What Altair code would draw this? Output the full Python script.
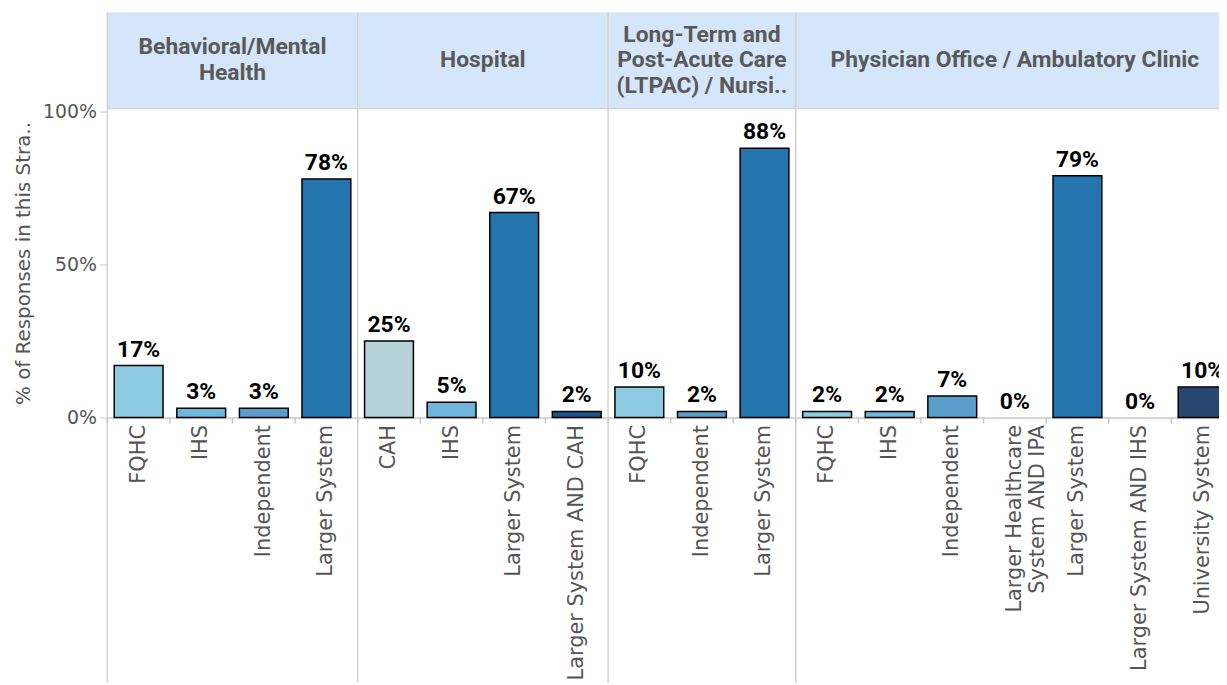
import altair as alt
import pandas as pd

# ---------------- data ----------------
panel_titles = [
    "Behavioral/Mental\nHealth",
    "Hospital",
    "Long-Term and\nPost-Acute Care\n(LTPAC) / Nursi..",
    "Physician Office / Ambulatory Clinic",
]

bh_cats = ["FQHC", "IHS", "Independent", "Larger System"]
bh_vals = [0.17, 0.03, 0.03, 0.78]

hosp_cats = ["CAH", "IHS", "Larger System", "Larger System AND CAH"]
hosp_vals = [0.25, 0.05, 0.67, 0.02]

ltpac_cats = ["FQHC", "Independent", "Larger System"]
ltpac_vals = [0.10, 0.02, 0.88]

phys_cats = ["FQHC", "IHS", "Independent", "Larger Healthcare\nSystem AND IPA",
             "Larger System", "Larger System AND IHS", "University System"]
phys_vals = [0.02, 0.02, 0.07, 0.00, 0.79, 0.00, 0.10]

cat_colors = {
    "FQHC": "#8ccbe2",
    "IHS": "#6eb6db",
    "Independent": "#5b9ecb",
    "Larger System": "#2475ae",
    "CAH": "#b5d3d8",
    "Larger System AND CAH": "#1d528d",
    "Larger Healthcare\nSystem AND IPA": "#3a6ea5",
    "Larger System AND IHS": "#2f5f95",
    "University System": "#274770",
}

# ---------------- tables ----------------
groups = [(bh_cats, bh_vals), (hosp_cats, hosp_vals), (ltpac_cats, ltpac_vals), (phys_cats, phys_vals)]
rows, head = [], []
pos = 0
for i, (cats, vals) in enumerate(groups):
    start = pos
    for c, v in zip(cats, vals):
        rows.append({"key": f"{i}|{c}", "category": c, "value": v})
        pos += 1
    head.append({"title": panel_titles[i], "start": start, "end": pos, "center": (start + pos) / 2})
df = pd.DataFrame(rows)
hdf = pd.DataFrame(head)
keys = list(df["key"])
N = len(keys)
bdf = pd.DataFrame({"b": list(range(N + 1))})

STEP = 63
XR = N * STEP
PLOT_H = 311
VISIBLE_W = 1219 - 100  # visible part of the plot inside the window

FONT_AX = "DejaVu Sans"
GRAY = "#555555"
LINE = "#d3d3d3"


def qx(field):
    return alt.X(f"{field}:Q", scale=alt.Scale(domain=[0, N], nice=False, zero=False), axis=None)


xband_axis = alt.Axis(
    title=None, labelAngle=270, labelAlign="right", labelBaseline="middle",
    labelPadding=7, ticks=False, domainColor="#c8c8c8", domainWidth=1.5,
    labelFont=FONT_AX, labelFontSize=21, labelColor=GRAY, labelLimit=0,
    labelOverlap=False, grid=False, labelLineHeight=23,
    labelExpr="split(split(datum.value, '|')[1], '\\n')",
)
xband_scale = alt.Scale(domain=keys, paddingInner=0.22, paddingOuter=0.11)

yscale = alt.Scale(domain=[0, 1.01], nice=False, zero=True)
yaxis = alt.Axis(
    values=[0, 0.5, 1], format=".0%", title="% of Responses in this Stra..",
    grid=False, domain=False, tickSize=8, tickColor="#c8c8c8",
    labelFont=FONT_AX, labelFontSize=19, labelColor=GRAY, labelPadding=3,
    titleFont=FONT_AX, titleFontSize=20, titleColor=GRAY, titleFontWeight="normal",
    titlePadding=9,
)

band = alt.Chart(hdf).mark_rect(color="#d6e6fa").encode(
    x=qx("start"), x2="end:Q", y=alt.value(-97), y2=alt.value(0)
)
seps = alt.Chart(hdf).mark_rule(color=LINE, strokeWidth=1.5).encode(
    x=qx("start"), y=alt.value(-97), y2=alt.value(578)
)
hline = alt.Chart(hdf).mark_rule(color=LINE, strokeWidth=1.5).encode(
    x=qx("start"), x2="end:Q", y=alt.value(0)
)
ticks = alt.Chart(bdf).mark_rule(color="#c8c8c8", strokeWidth=1.5).encode(
    x=qx("b"), y=alt.value(PLOT_H), y2=alt.value(PLOT_H + 6)
)

bars = alt.Chart(df).transform_filter("datum.value > 0").mark_bar(
    stroke="black", strokeWidth=1.5
).encode(
    x=alt.X("key:N", scale=xband_scale, axis=xband_axis),
    y=alt.Y("value:Q", scale=yscale, axis=yaxis),
    color=alt.Color("category:N", scale=alt.Scale(domain=list(cat_colors.keys()),
                                                   range=list(cat_colors.values())), legend=None),
)

labels = alt.Chart(df).mark_text(
    font="Roboto", fontWeight="bold", fontSize=23, baseline="alphabetic", dy=-9, color="black"
).encode(
    x=alt.X("key:N", scale=xband_scale, axis=None),
    y=alt.Y("value:Q", scale=yscale),
    text=alt.Text("value:Q", format=".0%"),
)

htext = alt.Chart(hdf).transform_calculate(
    ty="-48.5 - (length(split(datum.title, '\\n')) - 1) * 13"
).mark_text(
    font="Roboto", fontWeight="bold", fontSize=23, color="#595959",
    lineBreak="\n", lineHeight=26, baseline="middle", align="center"
).encode(x=qx("center"), y=alt.Y("ty:Q", scale=None), text="title:N")

chart = alt.layer(band, seps, hline, ticks, bars, labels, htext).resolve_scale(
    x="independent"
).properties(
    width=XR, height=PLOT_H,
    autosize=alt.AutoSizeParams(type="none"),
    padding={"left": 100, "top": 99, "right": VISIBLE_W - XR, "bottom": 267},
).configure_view(stroke=None)

chart.save("out.html", embed_options={"renderer": "svg", "actions": False})
